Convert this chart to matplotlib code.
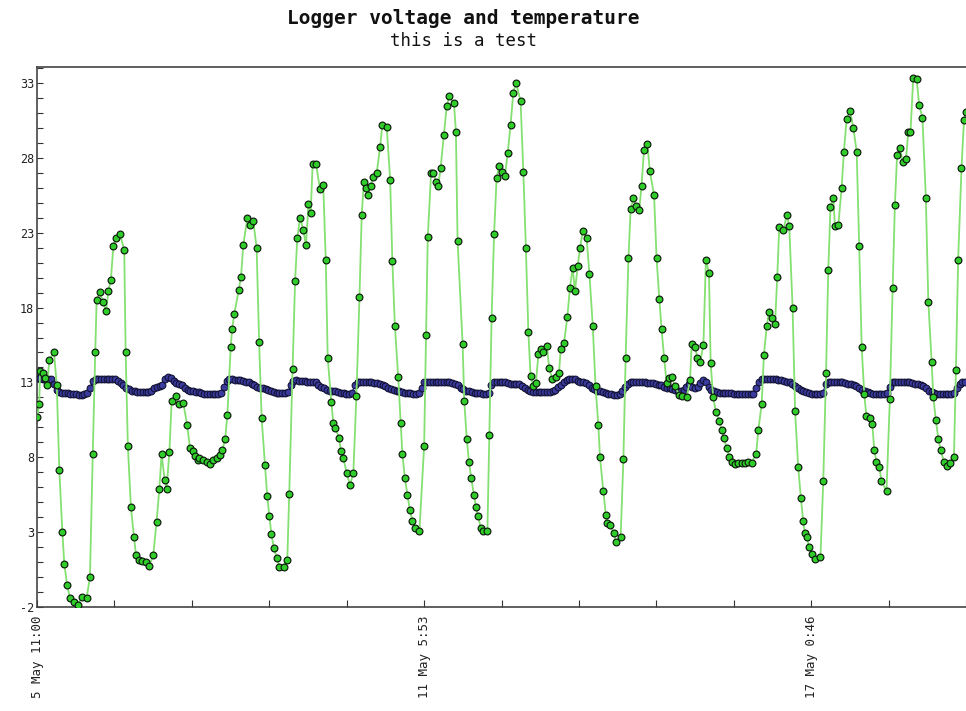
import matplotlib
matplotlib.use("Agg")
import matplotlib.pyplot as plt
from matplotlib.ticker import MultipleLocator, FixedLocator

# ---------------- data ----------------
# hours since 5 May 11:00
temp_hours = [
    0.1, 0.8, 1.1, 2.0, 2.9, 3.7, 4.4, 6.1, 7.1, 8.0, 9.1, 9.8, 10.8, 11.8, 13.3, 14.8, 16.0, 17.8, 19.0,
    20.0, 20.9, 21.4, 22.6, 23.6, 24.8, 25.6, 26.5, 27.4, 28.3, 29.8, 31.3, 31.8, 32.6, 33.7, 34.8, 35.5,
    36.5, 37.6, 39.1, 40.3, 41.7, 42.9, 43.9, 44.7, 45.8, 46.5, 47.5, 48.3, 49.8, 50.9, 52.5, 53.9, 54.9,
    55.9, 56.7, 57.6,
    58.2, 59.7, 60.9, 62.1, 63.3, 64.5, 65.7, 66.5, 67.5, 68.3, 69.5, 70.0, 70.8, 72.4, 73.2, 74.0, 75.5,
    76.4, 77.6, 78.8, 79.7, 80.6, 81.8, 82.6, 83.4, 84.1, 85.0, 86.0, 87.0, 88.6, 89.8, 90.5, 91.7, 92.6,
    93.4, 94.4, 95.6, 96.5, 97.4, 98.2, 98.9, 100.1, 101.5, 102.7, 103.6, 104.3, 105.6, 106.3, 107.0,
    108.4, 109.0, 109.9, 111.1, 112.3, 113.5, 114.6,
    115.7, 116.5, 117.3, 118.0, 118.9, 119.7, 120.7, 121.9, 123.1, 123.9, 125.5, 126.7, 127.5, 128.4,
    129.6, 130.5, 131.1, 132.0, 132.9, 133.8, 134.7, 135.6, 137.2, 138.9, 139.6, 140.2, 141.4, 142.2,
    143.2, 144.0, 144.8, 146.0, 147.0, 147.9, 149.6, 150.3, 150.9, 152.7, 153.3, 154.2, 155.0, 155.8,
    156.8, 157.5, 158.3, 159.2, 160.1, 161.6, 162.3, 163.1, 164.0, 164.9, 165.8, 166.7, 167.9, 168.9,
    169.9, 170.9, 171.9, 173.5, 174.5, 175.4, 176.3, 177.1, 178.1, 179.0, 179.9, 180.7, 181.7, 182.9,
    183.8, 184.9, 186.1, 187.3, 187.9, 189.1, 190.3, 191.2, 192.2, 193.0, 194.0, 194.8, 195.8, 197.2,
    198.2, 199.4, 200.4, 201.4, 202.0, 203.2, 204.1, 204.6, 205.6, 207.0, 207.7, 209.4, 210.4, 211.2,
    212.2, 213.0, 214.0, 214.9, 216.1, 216.9, 217.8, 219.0, 219.9, 221.4, 222.3, 223.3, 224.1, 225.0,
    225.9, 226.9, 227.7,
    228.9, 230.5, 231.6, 233.1, 234.3, 234.9, 236.1, 236.9, 237.9, 239.1, 240.0, 241.1, 241.7, 242.6,
    243.6, 244.8, 245.6, 246.5, 247.4, 248.4, 249.2, 250.4, 251.6, 252.8, 254.0, 255.2, 256.4, 258.0,
    258.8, 260.0, 260.8, 261.8, 262.6, 263.6, 264.8, 265.6, 266.3, 267.8, 269.0, 269.9, 271.1, 272.0,
    273.1, 274.1, 274.9, 275.5, 276.1, 277.1, 277.9, 279.1,
    281.1, 282.1, 283.1, 283.9, 284.7, 285.7, 286.3, 287.5, 288.7, 289.5, 290.5, 291.7, 292.9, 294.1,
    295.0, 295.9, 296.8, 297.6, 298.8, 299.7, 300.4, 301.2, 302.2, 303.0, 304.8, 306.0, 307.0, 307.8,
    308.6, 309.6, 310.6, 311.8, 312.6, 313.4, 314.4, 315.6, 316.5, 317.7, 318.9, 319.8, 321.0, 321.6,
    322.5, 323.4, 324.2, 325.4, 326.6, 327.5, 329.0, 329.7, 330.5, 331.7, 332.6, 333.3,
]
temp_values = [
    10.7, 11.55, 13.75, 13.65, 13.3, 12.85, 14.5, 15.0, 12.8, 7.15, 3.0, 0.85, -0.5, -1.4, -1.65, -1.85,
    -1.3, -1.4, 0.0,
    8.2, 15.05, 18.5, 19.05, 18.35, 17.8, 19.1, 19.85, 22.1, 22.65, 22.9, 21.85, 15.05, 8.75, 4.65, 2.65,
    1.5, 1.15, 1.1, 1.0, 0.75, 1.45, 3.7, 5.9, 8.2, 6.5, 5.9, 8.35, 11.75, 12.1, 11.55, 11.6, 10.15, 8.6,
    8.4, 8.1, 7.8,
    7.95, 7.8, 7.7, 7.55, 7.8, 7.95, 8.15, 8.5, 9.2, 10.85, 15.35, 16.55, 17.6, 19.2, 20.05, 22.15, 24.0,
    23.5, 23.75, 22.0, 15.7, 10.6, 7.5, 5.4, 4.05, 2.85, 1.95, 1.3, 0.7, 0.7, 1.15, 5.55, 13.9, 19.8,
    22.65, 24.0, 23.15, 22.15, 24.9, 24.3, 27.6, 27.6, 25.95, 26.2, 21.2, 14.65, 11.7, 10.3, 9.95,
    9.3, 8.45, 7.95, 6.95, 6.15, 6.95, 12.1,
    18.7, 24.2, 26.4, 26.0, 25.55, 26.15, 26.75, 27.0, 28.75, 30.2, 30.05, 26.55, 21.1, 16.8,
    13.35, 10.3, 8.2, 6.6, 5.5, 4.45, 3.75, 3.3, 3.05, 8.75, 16.2, 22.7, 27.0, 27.0,
    26.4, 26.15, 27.3, 29.55, 31.45, 32.1, 31.65, 29.75, 22.45, 15.6, 11.75, 9.2, 7.7, 6.6,
    5.45, 4.7, 4.05, 3.3, 3.1, 3.05, 9.5, 17.3, 22.9, 26.65, 27.45, 27.05, 26.8, 28.35,
    30.2, 32.35, 33.0, 31.8, 27.05, 22.0, 16.35, 13.4, 12.75, 12.95, 14.9, 15.25, 15.05, 15.45,
    13.95, 13.2, 13.35, 13.65, 15.25, 15.65, 17.4, 19.3, 20.65, 19.1, 20.75, 21.95, 23.1, 22.65,
    20.25, 16.8, 12.75, 10.15, 8.0, 5.75, 4.15, 3.6, 3.45, 2.95, 2.35, 2.65, 7.9, 14.65,
    21.3, 24.6, 25.3, 24.8, 24.55, 26.15, 28.55, 28.9, 27.1, 25.5, 21.3, 18.55, 16.55, 14.65,
    12.95, 13.3, 13.35,
    12.75, 12.15, 12.1, 12.0, 13.15, 15.6, 15.4, 14.65, 14.35, 15.5, 21.2, 20.3, 14.3, 12.0,
    11.05, 10.4, 9.85, 9.3, 8.65, 8.05, 7.7, 7.55, 7.6, 7.6, 7.6, 7.7, 7.65, 8.2,
    9.8, 11.55, 14.8, 16.75, 17.7, 17.3, 16.9, 20.05, 23.35, 23.15, 24.2, 23.45, 18.0, 11.1,
    7.35, 5.25, 3.75, 2.95, 2.7, 2.0, 1.55, 1.2,
    1.35, 6.4, 13.6, 20.5, 24.7, 25.35, 23.45, 23.5, 26.0, 28.4, 30.6, 31.15, 30.0, 28.4,
    22.1, 15.35, 12.25, 10.75, 10.65, 10.25, 8.5, 7.7, 7.35, 6.4, 5.75, 11.9, 19.3, 24.85,
    28.2, 28.65, 27.7, 27.95, 29.7, 29.7, 33.35, 33.3, 31.55, 30.65, 25.35, 18.4, 14.35, 12.0,
    10.5, 9.2, 8.5, 7.7, 7.4, 7.65, 8.05, 13.8, 21.2, 27.3, 30.55, 31.05,
]

# logger voltage, one reading per hour from 5 May 11:00
voltage_values = [
    13.3, 13.3, 13.25, 13.25, 13.25, 13.2, 12.9, 12.5,
    12.35, 12.3, 12.3, 12.28, 12.25, 12.25, 12.2, 12.18, 12.16, 12.2, 12.28,
    12.6, 13.1,
    13.25, 13.25, 13.25, 13.25, 13.25, 13.25, 13.25,
    13.2, 13.1, 12.95, 12.8, 12.65, 12.55,
    12.45, 12.4, 12.38, 12.35, 12.35, 12.35, 12.38, 12.45,
    12.6, 12.7, 12.75, 12.8, 13.2, 13.36,
    13.3, 13.1, 12.95, 12.9, 12.8,
    12.6, 12.5, 12.45, 12.4, 12.38, 12.35, 12.3,
    12.25, 12.25, 12.25, 12.25, 12.25, 12.25, 12.3,
    12.7, 13.1,
    13.2, 13.2, 13.15, 13.15, 13.15, 13.1, 13.05, 13.0,
    12.9, 12.8, 12.7, 12.65, 12.6, 12.55, 12.5, 12.45,
    12.35, 12.3, 12.3, 12.3, 12.3, 12.35,
    12.8, 13.1,
    13.15, 13.1, 13.1, 13.1, 13.05, 13.05, 13.0, 13.0,
    12.85, 12.7, 12.6,
    12.5, 12.45, 12.4, 12.4, 12.35, 12.3, 12.28, 12.25, 12.25, 12.3,
    12.8, 13.0,
    13.05, 13.05, 13.0, 13.0, 13.0, 12.95, 12.95, 12.9, 12.85, 12.75,
    12.65, 12.55, 12.5, 12.45, 12.4,
    12.35, 12.3, 12.3, 12.28, 12.25, 12.25, 12.3,
    12.6, 13.0,
    13.05, 13.05, 13.05, 13.05, 13.05, 13.05, 13.0, 13.0, 13.0, 12.95, 12.9,
    12.8, 12.65, 12.55, 12.45,
    12.4, 12.35, 12.3, 12.3, 12.28, 12.25, 12.25, 12.3,
    12.8, 13.05,
    13.05, 13.05, 13.05, 13.0, 12.95, 12.9, 12.9, 12.9, 12.9,
    12.75, 12.6, 12.5, 12.4, 12.35,
    12.35, 12.35, 12.35, 12.35, 12.35, 12.35, 12.4, 12.5,
    12.7, 12.85, 13.0, 13.15, 13.25, 13.25,
    13.2, 13.1, 13.05, 13.0, 12.95,
    12.8, 12.65, 12.55, 12.45, 12.4,
    12.35, 12.3, 12.25, 12.2, 12.15, 12.15, 12.2,
    12.4, 12.7, 12.9, 13.0,
    13.0, 13.0, 13.0, 13.0, 13.0, 12.95, 12.95, 12.95, 12.9,
    12.85, 12.8, 12.7, 12.65, 12.6, 12.55,
    12.5, 12.45, 12.45, 12.5, 12.7, 12.9, 12.7, 12.6, 12.7, 12.95, 13.15, 13.0, 12.7,
    12.5, 12.4, 12.35, 12.3, 12.3, 12.3, 12.3, 12.3, 12.25,
    12.2, 12.2, 12.2, 12.2, 12.2, 12.2, 12.25,
    12.6, 13.0, 13.2,
    13.25, 13.25, 13.2, 13.2, 13.2, 13.15, 13.15, 13.1, 13.05, 13.0,
    12.9, 12.75, 12.6, 12.5, 12.4, 12.35, 12.3,
    12.25, 12.2, 12.2, 12.2, 12.3,
    12.9,
    13.05, 13.05, 13.0, 13.0, 13.0, 13.0, 12.95, 12.9, 12.9, 12.85,
    12.75, 12.6, 12.5, 12.4, 12.35, 12.3,
    12.25, 12.25, 12.25, 12.25, 12.25, 12.3,
    12.7, 13.0,
    13.05, 13.05, 13.0, 13.0, 13.0, 13.0, 12.95, 12.9, 12.9, 12.85,
    12.75, 12.6, 12.45, 12.35,
    12.3, 12.25, 12.2, 12.2, 12.2, 12.2, 12.25, 12.3,
    12.6, 12.9, 13.0, 13.0,
]
voltage_hours = list(range(len(voltage_values)))

x_tick_hours = [0.0, 138.883, 277.767]
x_tick_labels = ["5 May 11:00", "11 May 5:53", "17 May 0:46"]
y_ticks = [-2, 3, 8, 13, 18, 23, 28, 33]
title = "Logger voltage and temperature"
subtitle = "this is a test"

# ---------------- drawing ----------------
W, H = 966, 711
fig = plt.figure(figsize=(W / 100, H / 100), dpi=100)
fig.patch.set_facecolor("white")
left, right, top, bottom = 37, 966, 67, 607
ax = fig.add_axes([left / W, 1 - bottom / H, (right - left) / W, (bottom - top) / H])

mono = "DejaVu Sans Mono"
minor_step = x_tick_hours[1] / 5

ax.plot(voltage_hours, voltage_values, color="#2a2ad0", lw=1.0, marker="o", ms=4.9,
        mfc="#3b3b9e", mec="#101030", mew=0.75, zorder=3)
ax.plot(temp_hours, temp_values, color="#84e070", lw=1.3, marker="o", ms=4.9,
        mfc="#2fcc2a", mec="#0d1a0d", mew=0.85, zorder=4)

ax.set_xlim(0, 12 * minor_step)
ax.set_ylim(-2, 34.07)

ax.xaxis.set_major_locator(FixedLocator(x_tick_hours))
ax.set_xticklabels(x_tick_labels, rotation=90, family=mono, fontsize=9, color="#222222")
ax.xaxis.set_minor_locator(FixedLocator([i * minor_step for i in range(13)]))
ax.set_yticks(y_ticks)
ax.set_yticklabels([str(v) for v in y_ticks], family=mono, fontsize=8.5, color="#222222")
ax.yaxis.set_minor_locator(MultipleLocator(1))

ax.tick_params(axis="x", which="both", direction="in", length=5, width=0.8, color="#333333", pad=6)
ax.tick_params(axis="y", which="both", direction="in", length=4, width=0.8, color="#333333", pad=2)

for s in ["left", "bottom", "top"]:
    ax.spines[s].set_color("#444444")
    ax.spines[s].set_linewidth(1.2)
ax.spines["right"].set_visible(False)

fig.text(463 / W, 1 - 18 / H, title, ha="center", va="center", family=mono, fontsize=14,
         weight="semibold", color="#111111")
fig.text(463 / W, 1 - 41 / H, subtitle, ha="center", va="center", family=mono, fontsize=12.5,
         color="#111111")

fig.savefig("out.png", dpi=100, facecolor="white")
